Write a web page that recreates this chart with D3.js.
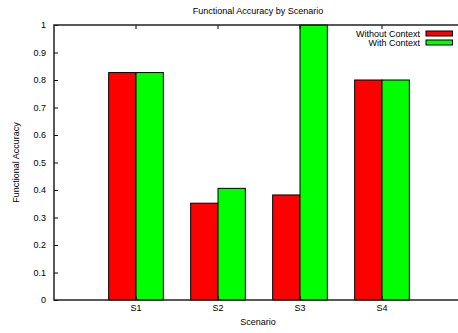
<!DOCTYPE html>
<html lang="en">
<head>
  <meta charset="UTF-8">
  <title>Functional Accuracy by Scenario</title>
  <script src="https://cdn.jsdelivr.net/npm/d3@7"></script>
  <style>
    body { margin: 0; background: #fff; }
    text { font-family: "Liberation Sans", Arial, sans-serif; fill: #000; }
  </style>
</head>
<body>
<script>
let scenarios = ['S1', 'S2', 'S3', 'S4'];
let series = ['Without Context', 'With Context'];
let withoutContext = [0.827, 0.352, 0.382, 0.8];
let withContext = [0.827, 0.406, 1.0, 0.8];
let colors = ['#ff0000', '#00ff00'];
let yTicks = [0, 0.1, 0.2, 0.3, 0.4, 0.5, 0.6, 0.7, 0.8, 0.9, 1];

let width = 458;
let height = 333;
let plotLeft = 54;
let plotRight = 464;
let plotTop = 25;
let plotBottom = 300;

let values = [withoutContext, withContext];

let x = d3.scaleBand()
  .domain(scenarios)
  .range([plotLeft + 41, plotRight - 41]);

let xs = d3.scaleBand()
  .domain(series)
  .range([x.bandwidth() / 6, x.bandwidth() * 5 / 6]);

let y = d3.scaleLinear()
  .domain([0, 1])
  .range([plotBottom, plotTop]);

let svg = d3.select('body').append('svg')
  .attr('width', width)
  .attr('height', height);

// bars
let groups = svg.selectAll('g.group')
  .data(scenarios)
  .enter()
  .append('g')
  .attr('class', 'group')
  .attr('transform', function (d) {
    return 'translate(' + x(d) + ',0)';
  });

groups.selectAll('rect')
  .data(function (d, i) {
    return series.map(function (s, j) {
      return { s: s, j: j, v: values[j][i] };
    });
  })
  .enter()
  .append('rect')
  .attr('x', function (d) { return xs(d.s); })
  .attr('y', function (d) { return y(d.v); })
  .attr('width', xs.bandwidth())
  .attr('height', function (d) { return y(0) - y(d.v); })
  .attr('fill', function (d) { return colors[d.j]; })
  .attr('stroke', '#000')
  .attr('stroke-width', 1);

// axes
let fmt = function (d) { return String(+d.toFixed(1)); };

let yAxis = svg.append('g')
  .attr('transform', 'translate(' + plotLeft + ',0)')
  .call(d3.axisLeft(y).tickValues(yTicks).tickFormat(fmt).tickSize(-4).tickPadding(8));

let yAxisR = svg.append('g')
  .attr('transform', 'translate(' + plotRight + ',0)')
  .call(d3.axisRight(y).tickValues(yTicks).tickFormat('').tickSize(-4));

let xAxis = svg.append('g')
  .attr('transform', 'translate(0,' + plotBottom + ')')
  .call(d3.axisBottom(x).tickSize(-4).tickPadding(5));

let xAxisTop = svg.append('g')
  .attr('transform', 'translate(0,' + plotTop + ')')
  .call(d3.axisTop(x).tickSize(-4).tickFormat(''));

[yAxis, yAxisR, xAxis, xAxisTop].forEach(function (g) {
  g.select('.domain').remove();
  g.selectAll('.tick line').attr('stroke', '#000');
  g.selectAll('.tick text')
    .style('font-family', '"Liberation Sans", Arial, sans-serif')
    .style('font-size', '9px')
    .attr('fill', '#000');
});

// border
svg.append('path')
  .attr('d', 'M' + plotRight + ',' + plotTop + 'H' + plotLeft + 'V' + plotBottom + 'H' + plotRight)
  .attr('fill', 'none')
  .attr('stroke', '#222')
  .attr('stroke-width', 1.5);

// titles
svg.append('text')
  .attr('x', 258)
  .attr('y', 14)
  .attr('text-anchor', 'middle')
  .style('font-size', '9px')
  .text('Functional Accuracy by Scenario');

svg.append('text')
  .attr('x', 258)
  .attr('y', 325)
  .attr('text-anchor', 'middle')
  .style('font-size', '9px')
  .text('Scenario');

svg.append('text')
  .attr('transform', 'translate(19,' + ((plotTop + plotBottom) / 2) + ') rotate(-90)')
  .attr('text-anchor', 'middle')
  .style('font-size', '9px')
  .text('Functional Accuracy');

// legend
let legend = svg.selectAll('g.legend')
  .data(series)
  .enter()
  .append('g')
  .attr('class', 'legend')
  .attr('transform', function (d, i) {
    return 'translate(0,' + (33.5 + i * 9) + ')';
  });

legend.append('text')
  .attr('x', 420)
  .attr('y', 3)
  .attr('text-anchor', 'end')
  .style('font-size', '9px')
  .text(function (d) { return d; });

legend.append('rect')
  .attr('x', 426)
  .attr('y', -2.5)
  .attr('width', 26.5)
  .attr('height', 5)
  .attr('fill', function (d, i) { return colors[i]; })
  .attr('stroke', '#000')
  .attr('stroke-width', 1);
</script>
</body>
</html>
